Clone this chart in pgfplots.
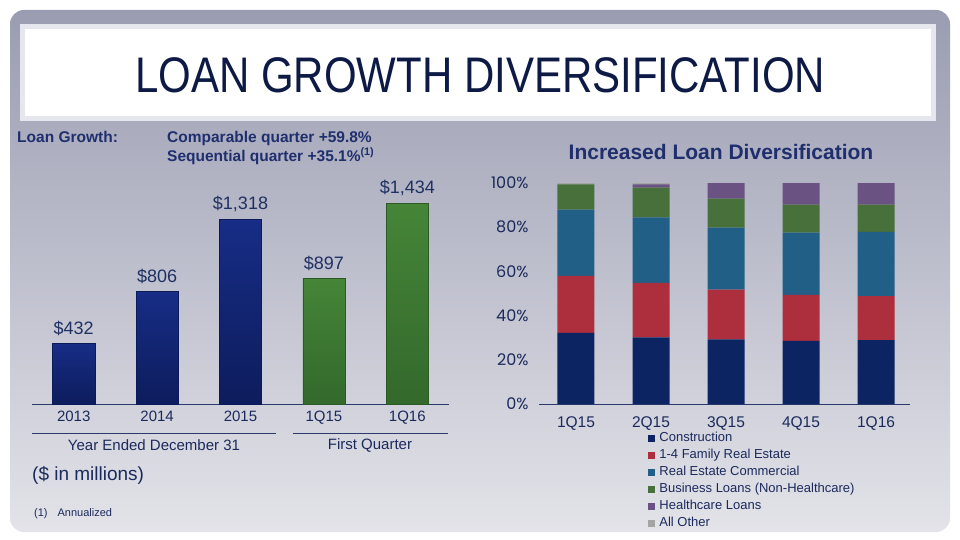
\documentclass[border=0pt]{standalone}
\usepackage{pgfplots}
\pgfplotsset{compat=1.18}
\usepackage{fontspec}
\setmainfont{Liberation Sans}
\newfontfamily\gothic{Poppins}
\newfontfamily\narrow[FakeStretch=0.84]{Liberation Sans}
\definecolor{panelTop}{HTML}{9A9CB1}
\definecolor{panelMid}{HTML}{B3B4C5}
\definecolor{panelBot}{HTML}{E3E3E9}
\definecolor{titleBorder}{HTML}{E6E6EE}
\definecolor{titleNavy}{HTML}{0D1A45}
\definecolor{hdrNavy}{HTML}{1F2F6E}
\definecolor{lblNavy}{HTML}{1B2A5C}
\definecolor{valNavy}{HTML}{1F3163}
\definecolor{axisNavy}{HTML}{2A3A6A}
\definecolor{navyEdge}{HTML}{0B1A58}
\definecolor{navyTop}{HTML}{172D86}
\definecolor{navyBot}{HTML}{0D1C5C}
\definecolor{greenEdge}{HTML}{2C5A25}
\definecolor{greenTop}{HTML}{468538}
\definecolor{greenBot}{HTML}{33692C}
\definecolor{cConstr}{HTML}{0C2562}
\definecolor{cFamily}{HTML}{AD2E3C}
\definecolor{cRECom}{HTML}{215F87}
\definecolor{cBus}{HTML}{47703A}
\definecolor{cHealth}{HTML}{6A5283}
\definecolor{cOther}{HTML}{A5A5A5}
\pgfplotsset{
  navybar/.style={ybar, bar width=42pt, bar shift=0pt, draw=navyEdge, top color=navyTop, bottom color=navyBot, valnodes},
  greenbar/.style={ybar, bar width=42pt, bar shift=0pt, draw=greenEdge, top color=greenTop, bottom color=greenBot, valnodes},
  valnodes/.style={nodes near coords={\$\pgfmathprintnumber[assume math mode=true, 1000 sep={,}]{\pgfplotspointmeta}},
    every node near coord/.append style={font=\fontsize{18}{21}\selectfont, text=valNavy, yshift=4pt}}
}
\begin{document}
\begin{tikzpicture}[x=1pt,y=-1pt]
\useasboundingbox (0,0) rectangle (960,540);
\fill[white] (0,0) rectangle (960,540);
\shade[top color=panelTop, middle color=panelMid, bottom color=panelBot, rounded corners=14pt] (10,10) rectangle (950,532);
\fill[titleBorder] (20,24) rectangle (936,121);
\fill[white] (25,29) rectangle (931,116);
\node[font=\narrow\fontsize{50}{54}\selectfont, text=titleNavy] at (480,75) {LOAN GROWTH DIVERSIFICATION};
\node[anchor=base west, font=\bfseries\fontsize{15.5}{18}\selectfont, text=hdrNavy, inner sep=0] at (17,143) {Loan Growth:};
\node[anchor=base west, font=\bfseries\fontsize{15.5}{18}\selectfont, text=hdrNavy, inner sep=0] at (167,143) {Comparable quarter +59.8\%};
\node[anchor=base west, font=\bfseries\fontsize{15.5}{18}\selectfont, text=hdrNavy, inner sep=0] at (167,161) {Sequential quarter +35.1\%\textsuperscript{(1)}};
\node[font=\bfseries\fontsize{21}{25}\selectfont, text=hdrNavy] at (721,152) {Increased Loan Diversification};
% left chart
\begin{axis}[at={(32pt,-404pt)}, anchor=south west, scale only axis,
  width=417pt, height=250pt, xmin=-0.5, xmax=4.5, ymin=0, ymax=1783.6,
  axis y line=none, axis x line*=bottom,
  x axis line style={draw=axisNavy, line width=0.8pt},
  xtick={0,...,4}, xticklabels={2013,2014,2015,1Q15,1Q16},
  major tick length=0pt,
  xticklabel style={font=\fontsize{15}{17}\selectfont, text=lblNavy, yshift=-3pt},
  clip=false]
\addplot[navybar] coordinates {(0,432)};
\addplot[navybar] coordinates {(1,806)};
\addplot[navybar] coordinates {(2,1318)};
\addplot[greenbar] coordinates {(3,897)};
\addplot[greenbar] coordinates {(4,1434)};
\end{axis}
\draw[axisNavy, line width=1pt] (32,433) -- (276,433);
\draw[axisNavy, line width=1pt] (293,433) -- (448,433);
\node[font=\fontsize{15}{17}\selectfont, text=lblNavy] at (154,445) {Year Ended December 31};
\node[font=\fontsize{15}{17}\selectfont, text=lblNavy] at (370,445) {First Quarter};
\node[anchor=base west, font=\fontsize{19}{21}\selectfont, text=lblNavy, inner sep=0] at (32,480) {(\$ in millions)};
\node[anchor=base west, font=\fontsize{11}{13}\selectfont, text=lblNavy, inner sep=0] at (34,516) {(1)\hspace{10pt}Annualized};
% right chart
\begin{axis}[at={(539pt,-404pt)}, anchor=south west, scale only axis,
  width=371pt, height=221pt, xmin=-0.493, xmax=4.453, ymin=0, ymax=100,
  ybar stacked, bar width=37pt,
  axis x line*=bottom, axis y line*=left,
  y axis line style={draw=none},
  x axis line style={draw=axisNavy, line width=0.9pt},
  major tick length=0pt,
  xtick={0,...,4}, xticklabels={1Q15,2Q15,3Q15,4Q15,1Q16},
  ytick={0,20,40,60,80,100}, yticklabels={0\%,20\%,40\%,60\%,80\%,100\%},
  xticklabel style={font=\fontsize{15.5}{17}\selectfont, text=lblNavy, yshift=-9pt},
  yticklabel style={font=\gothic\fontsize{16}{18}\selectfont, text=lblNavy, xshift=-7pt},
  every axis plot/.append style={draw=none, legend image code/.code={\fill[##1] (0pt,-3.5pt) rectangle (7pt,3.5pt);}},
  legend style={at={(0.293,-0.127)}, anchor=north west, draw=none, fill=none,
    font=\fontsize{13}{15}\selectfont, text=lblNavy, inner sep=0pt, row sep=5.1pt, column sep=4.5pt,
    nodes={inner sep=0pt, text height=9pt, text depth=3pt}},
  legend cell align=left,
  clip=false]
\addplot[fill=cConstr] coordinates {(0,32.2) (1,30.2) (2,29.3) (3,28.6) (4,28.9)};
\addplot[fill=cFamily] coordinates {(0,25.8) (1,24.6) (2,22.4) (3,20.8) (4,19.9)};
\addplot[fill=cRECom] coordinates {(0,29.9) (1,29.6) (2,28.1) (3,28.2) (4,29.1)};
\addplot[fill=cBus] coordinates {(0,11.5) (1,13.5) (2,13.1) (3,12.6) (4,12.3)};
\addplot[fill=cHealth] coordinates {(0,0.0) (1,1.5) (2,7.1) (3,9.8) (4,9.8)};
\addplot[fill=cOther] coordinates {(0,0.6) (1,0.6) (2,0.0) (3,0.0) (4,0.0)};
\legend{Construction,1-4 Family Real Estate,Real Estate Commercial,Business Loans (Non-Healthcare),Healthcare Loans,All Other}
\end{axis}
\end{tikzpicture}
\end{document}
